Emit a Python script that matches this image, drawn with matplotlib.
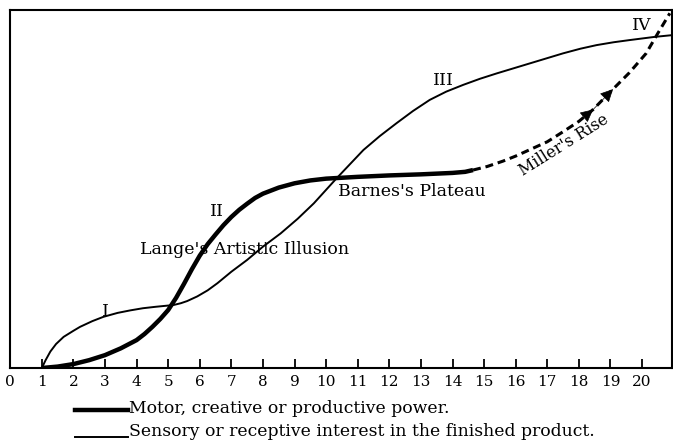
import matplotlib

matplotlib.use("Agg")
import matplotlib.pyplot as plt
from matplotlib.lines import Line2D

# Motor, creative or productive power (thick solid part)
motor_x = [1, 1.5, 2, 2.5, 3, 3.5, 4, 4.25, 4.5, 4.75, 5, 5.25, 5.5, 5.75, 6,
           6.25, 6.5, 6.75, 7, 7.25, 7.5, 7.75, 8, 8.5, 9, 9.5, 10, 11, 12,
           13, 14, 14.4, 14.65]
motor_y = [0, 0.4, 1.1, 2.2, 3.6, 5.5, 7.8, 9.5, 11.5, 13.7, 16.2, 19.6, 23.5,
           27.6, 31.4, 34.6, 37.3, 39.9, 42.2, 44.2, 45.9, 47.5, 48.7, 50.4,
           51.6, 52.4, 52.9, 53.4, 53.8, 54.1, 54.5, 54.8, 55.3]

# Miller's Rise (dashed continuation)
rise_x = [14.65, 15.1, 15.6, 16.0, 16.4, 17.0, 17.5, 18.0, 18.45, 19.08, 19.6,
          20.13, 20.5, 20.88]
rise_y = [55.3, 56.3, 57.8, 59.2, 60.8, 63.2, 66.0, 68.9, 72.2, 77.9, 82.5,
          87.9, 93.5, 99.1]
arrow_idx = [8, 9]

# Sensory or receptive interest in the finished product
sensory_x = [1, 1.12, 1.27, 1.45, 1.69, 2.0, 2.21, 2.6, 2.95, 3.4, 3.8, 4.2,
             4.6, 5.0, 5.17, 5.4, 5.6, 5.92, 6.25, 6.56, 7, 7.5, 8, 8.56, 9.1,
             9.61, 10.3, 10.75, 11.18, 11.7, 12.23, 12.75, 13.28, 13.8, 14.34,
             14.87, 15.4, 16.45, 17.5, 18.05, 18.56, 19.1, 19.6, 20.4, 20.97]
sensory_y = [0, 2.2, 4.6, 6.7, 8.7, 10.4, 11.5, 13.1, 14.3, 15.4, 16.1, 16.7,
             17.1, 17.45, 17.6, 18.1, 18.7, 20.0, 21.7, 23.7, 26.9, 30.2, 33.9,
             37.6, 41.7, 46.0, 52.7, 56.9, 60.9, 64.8, 68.4, 71.8, 74.9, 77.2,
             79.1, 80.8, 82.3, 85.1, 87.9, 89.2, 90.2, 91.0, 91.6, 92.5, 93.0]

x_ticks = list(range(0, 21))

# stage labels: (text, x, y, rotation, ha, size)
annotations = [
    ("I", 3.0, 15.7, 0, "center", 12.5),
    ("II", 6.53, 43.7, 0, "center", 12.5),
    ("Lange's Artistic Illusion", 4.11, 33.0, 0, "left", 12.5),
    ("Barnes's Plateau", 10.38, 49.2, 0, "left", 12.5),
    ("III", 13.7, 80.4, 0, "center", 12.5),
    ("IV", 19.98, 95.8, 0, "center", 12.5),
    ("Miller's Rise", 17.52, 62.3, 32, "center", 11.5),
]

legend_labels = [
    "Motor, creative or productive power.",
    "Sensory or receptive interest in the finished product.",
]

plt.rcParams["font.family"] = ["DejaVu Serif"]

fig = plt.figure(figsize=(6.73, 4.40), dpi=100)
ax = fig.add_axes([0.0152, 0.1636, 0.9834, 0.8136])

ax.plot(motor_x, motor_y, color="black", linewidth=3.2, solid_capstyle="butt",
        solid_joinstyle="round")
ax.plot(rise_x, rise_y, color="black", linewidth=2.2, dashes=(2.6, 1.6))
ax.plot(sensory_x, sensory_y, color="black", linewidth=1.4,
        solid_joinstyle="round")

for i in arrow_idx:
    ax.annotate(
        "",
        xy=(rise_x[i], rise_y[i]),
        xytext=(rise_x[i - 1], rise_y[i - 1]),
        arrowprops=dict(arrowstyle="-|>,head_length=0.8,head_width=0.4",
                        color="black", lw=0.5, mutation_scale=10,
                        shrinkA=0, shrinkB=0),
    )

for text, x, y, rot, ha, size in annotations:
    ax.text(x, y, text, fontsize=size, rotation=rot, ha=ha, va="center",
            rotation_mode="anchor")

ax.set_xlim(0, 20.95)
ax.set_ylim(0, 100)
ax.set_xticks(x_ticks)
ax.set_xticklabels([str(t) for t in x_ticks])
ax.set_yticks([])
ax.tick_params(axis="x", direction="in", length=6.5, width=1.3, pad=5,
               labelsize=11)

for spine in ax.spines.values():
    spine.set_linewidth(1.5)

# legend drawn under the axis
line_y = [0.068, 0.007]
line_w = [3.2, 1.4]
text_y = [0.0614, 0.0095]
for label, ly, lw, ty in zip(legend_labels, line_y, line_w, text_y):
    fig.add_artist(Line2D([0.1114, 0.190], [ly, ly], color="black",
                          linewidth=lw, transform=fig.transFigure))
    fig.text(0.1917, ty, label, fontsize=12.4, va="baseline", ha="left")

fig.savefig("out.png", dpi=100)
